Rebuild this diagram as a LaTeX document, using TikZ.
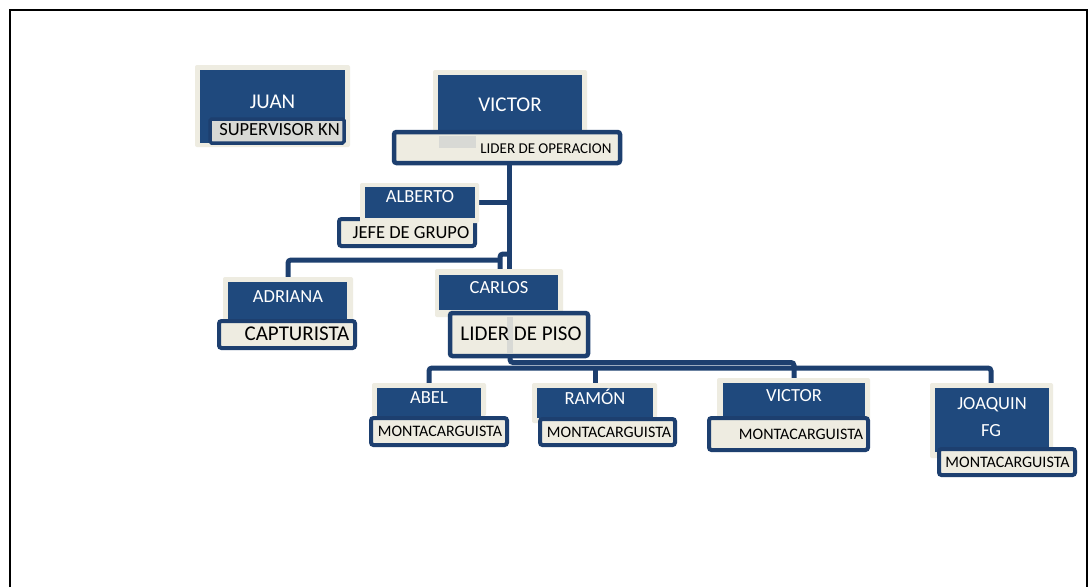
\documentclass[tikz,border=0pt]{standalone}
\usepackage{fontspec}
\setmainfont{Carlito}
\usetikzlibrary{fit}
\definecolor{boxblue}{HTML}{1F497D}
\definecolor{navy}{HTML}{1D3F6F}
\definecolor{cream}{HTML}{EEECE1}
\definecolor{lgray}{HTML}{D8D9D5}
\tikzset{
  back/.style={fill=cream, rounded corners=2pt, inner sep=0pt},
  namebox/.style={fill=boxblue, inner sep=0pt},
  titlebox/.style={draw=navy, line width=4pt, fill=cream, rounded corners=2.5pt, inner sep=0pt},
  conn/.style={draw=navy, line width=5pt, rounded corners=3pt},
  nmL/.style={text=white, font=\fontsize{21}{23}\selectfont, inner sep=0pt, text height=13.5pt, text depth=0pt},
  nm/.style={text=white, font=\fontsize{18.5}{20}\selectfont, inner sep=0pt, text height=11.9pt, text depth=0pt},
  ttL/.style={text=black, font=\fontsize{21}{23}\selectfont, inner sep=0pt, text height=13.5pt, text depth=0pt},
  ttM/.style={text=black, font=\fontsize{18.5}{20}\selectfont, inner sep=0pt, text height=11.9pt, text depth=0pt},
  tt/.style={text=black, font=\fontsize{16}{18}\selectfont, inner sep=0pt, text height=10.3pt, text depth=0pt},
  ttS/.style={text=black, font=\fontsize{15}{17}\selectfont, inner sep=0pt, text height=9.7pt, text depth=0pt},
}
\begin{document}
\begin{tikzpicture}[x=1pt,y=-1pt]
\useasboundingbox (0,0) rectangle (1092,587);
\fill[white] (0,0) rectangle (1092,587);
% frame
\draw[black, line width=2.5pt] (10,587) -- (10,10) -- (1087,10) -- (1087,587);

% connector coordinates
\coordinate (vTop) at (509,160);
\coordinate (vBot) at (509,270);
\coordinate (alR) at (479,202);
\coordinate (alJ) at (509,202);
\coordinate (adT) at (288,278);
\coordinate (adJ) at (500,260);
\coordinate (hkB) at (500,269);
\coordinate (hkJ) at (509,254);
\coordinate (caB) at (510,355);
\coordinate (viT) at (794,380);
\coordinate (abT) at (429,385);
\coordinate (raT) at (595,385);
\coordinate (joT) at (991,385);

% connectors
\draw[conn] (vTop) -- (vBot);
\draw[conn] (alR) -- (alJ);
\draw[conn] (adT) |- (adJ);
\draw[conn] (hkB) |- (hkJ);
\draw[conn] (caB) |- (viT |- 0,362.5) -- (viT);
\draw[conn] (abT) |- (joT |- 0,368) -- (joT);
\draw[conn] (raT) -- (raT |- 0,368);

% JUAN
\node[back, fit={(195,65) (350,147)}] (juanBack) {};
\node[namebox, fit={(200,70) (345,143)}] (juanBox) {};
\node[titlebox, line width=3.5pt, fill=lgray, rounded corners=1.5pt, fit={(210,119) (344,143)}] (juanTitle) {};
\node[nmL] (juanName) at (272.5,102) {JUAN};
\node[ttM] (juanRole) at (279.5,129.5) {SUPERVISOR KN};

% VICTOR (top)
\node[back, fit={(433,70) (587,140)}] (victorBack) {};
\node[namebox, fit={(438,75) (582,140)}] (victorBox) {};
\node[titlebox, line width=4.5pt, fit={(394,132) (620,163)}] (victorTitle) {};
\fill[lgray] (439,136) rectangle (476,148);
\node[nmL] (victorName) at (510,105) {VICTOR};
\node[ttS] (victorRole) at (546,148.5) {LIDER DE OPERACION};

% ALBERTO
\node[titlebox, fit={(339,219) (475,246)}] (albertoTitle) {};
\node[back, fit={(360,183) (479,223)}] (albertoBack) {};
\node[namebox, fit={(365,187) (475,218)}] (albertoBox) {};
\node[nm] (albertoName) at (420,197) {ALBERTO};
\node[ttM] (albertoRole) at (411,233) {JEFE DE GRUPO};

% ADRIANA
\node[back, fit={(223,277) (353,322)}] (adrianaBack) {};
\node[namebox, fit={(228,282) (347,320)}] (adrianaBox) {};
\node[titlebox, fit={(219,321) (355,348)}] (adrianaTitle) {};
\node[nm] (adrianaName) at (288,297) {ADRIANA};
\node[ttL] (adrianaRole) at (297,334) {CAPTURISTA};

% CARLOS
\node[back, fit={(435,269) (563,317)}] (carlosBack) {};
\node[namebox, fit={(439,275) (558,310)}] (carlosBox) {};
\node[titlebox, line width=4.5pt, fit={(450,313) (588,356)}] (carlosTitle) {};
\fill[lgray] (507,317) rectangle (513,353);
\node[nm] (carlosName) at (499,288) {CARLOS};
\node[ttL] (carlosRole) at (521,334) {LIDER DE PISO};

% ABEL
\node[back, fit={(372,383) (486,416)}] (abelBack) {};
\node[namebox, fit={(377,388) (481,417)}] (abelBox) {};
\node[titlebox, fit={(371,418) (507,445)}] (abelTitle) {};
\node[nm] (abelName) at (429,398) {ABEL};
\node[tt] (abelRole) at (440,431.5) {MONTACARGUISTA};

% RAMON
\node[back, fit={(532,383) (657,423)}] (ramonBack) {};
\node[namebox, fit={(537,388) (653,418)}] (ramonBox) {};
\node[titlebox, fit={(540,419) (675,445)}] (ramonTitle) {};
\node[nm] (ramonName) at (595,398.5) {RAMÓN};
\node[tt] (ramonRole) at (609,432.5) {MONTACARGUISTA};

% VICTOR (bottom)
\node[back, fit={(717,378) (870,420)}] (victorbBack) {};
\node[namebox, fit={(723,383) (865,417)}] (victorbBox) {};
\node[titlebox, fit={(709,418) (868,450)}] (victorbTitle) {};
\node[nm] (victorbName) at (794,396) {VICTOR};
\node[tt] (victorbRole) at (801,434) {MONTACARGUISTA};

% JOAQUIN
\node[back, fit={(930,383) (1053,458)}] (joaquinBack) {};
\node[namebox, fit={(935,388) (1049,452)}] (joaquinBox) {};
\node[titlebox, fit={(939,449) (1075,475)}] (joaquinTitle) {};
\node[nm] (joaquinName) at (992,404) {JOAQUIN};
\node[nm] (joaquinFG) at (991,431) {FG};
\node[tt] (joaquinRole) at (1007.5,462) {MONTACARGUISTA};
\end{tikzpicture}
\end{document}
